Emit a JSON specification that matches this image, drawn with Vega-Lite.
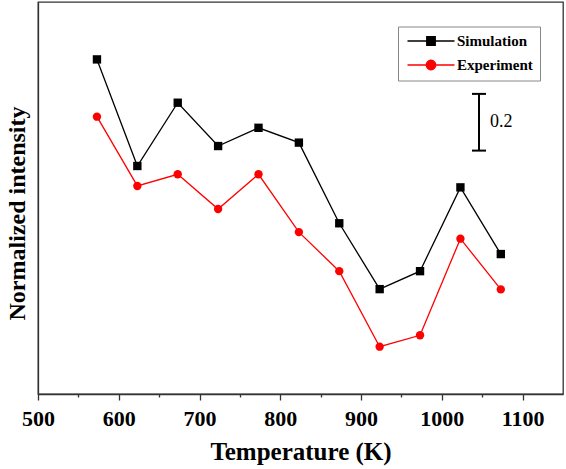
{
  "$schema": "https://vega.github.io/schema/vega-lite/v6.json",
  "width": 525,
  "height": 392,
  "autosize": "none",
  "padding": {"left": 38, "top": 2, "right": 3, "bottom": 75},
  "background": "white",
  "config": {
    "view": {"stroke": "#333", "strokeWidth": 1.3},
    "font": "Liberation Serif",
    "axisX": {
      "grid": false,
      "domainColor": "#333", "domainWidth": 1.3,
      "tickColor": "#333", "tickWidth": 1.3, "tickSize": 6,
      "labelFont": "Liberation Serif", "labelFontWeight": "bold", "labelFontSize": 22, "labelColor": "black",
      "labelPadding": 8, "labelFlush": false, "labelOverlap": false,
      "titleFont": "Liberation Serif", "titleFontWeight": "bold", "titleFontSize": 25, "titleColor": "black",
      "titlePadding": 10
    },
    "axisY": {
      "grid": false, "labels": false, "ticks": false,
      "domainColor": "#333", "domainWidth": 1.3,
      "titleFont": "Liberation Serif", "titleFontWeight": "bold", "titleFontSize": 24, "titleColor": "black"
    }
  },
  "data": {
    "values": [
      {"T": 573, "v": 1.174, "series": "Simulation"},
      {"T": 623, "v": 0.800, "series": "Simulation"},
      {"T": 673, "v": 1.022, "series": "Simulation"},
      {"T": 723, "v": 0.870, "series": "Simulation"},
      {"T": 773, "v": 0.934, "series": "Simulation"},
      {"T": 823, "v": 0.882, "series": "Simulation"},
      {"T": 873, "v": 0.599, "series": "Simulation"},
      {"T": 923, "v": 0.368, "series": "Simulation"},
      {"T": 973, "v": 0.431, "series": "Simulation"},
      {"T": 1023, "v": 0.725, "series": "Simulation"},
      {"T": 1073, "v": 0.491, "series": "Simulation"},
      {"T": 573, "v": 0.973, "series": "Experiment"},
      {"T": 623, "v": 0.730, "series": "Experiment"},
      {"T": 673, "v": 0.771, "series": "Experiment"},
      {"T": 723, "v": 0.649, "series": "Experiment"},
      {"T": 773, "v": 0.771, "series": "Experiment"},
      {"T": 823, "v": 0.568, "series": "Experiment"},
      {"T": 873, "v": 0.431, "series": "Experiment"},
      {"T": 923, "v": 0.166, "series": "Experiment"},
      {"T": 973, "v": 0.206, "series": "Experiment"},
      {"T": 1023, "v": 0.545, "series": "Experiment"},
      {"T": 1073, "v": 0.367, "series": "Experiment"}
    ]
  },
  "layer": [
    {
      "transform": [{"filter": "datum.series === 'Simulation'"}],
      "mark": {"type": "line", "strokeWidth": 1.3, "color": "black"},
      "encoding": {
        "x": {
          "field": "T", "type": "quantitative",
          "scale": {"domain": [500, 1150], "nice": false, "zero": false},
          "axis": {
            "title": "Temperature (K)",
            "format": "d",
            "values": [500, 550, 600, 650, 700, 750, 800, 850, 900, 950, 1000, 1050, 1100],
            "labelExpr": "datum.value % 100 === 0 ? datum.label : ''",
            "tickSize": {"condition": {"test": "datum.value % 100 !== 0", "value": 3}, "value": 6},
            "encode": {
              "labels": {
                "font": {"value": "Liberation Serif"},
                "fontWeight": {"value": "bold"},
                "fontSize": {"value": 22}
              }
            }
          }
        },
        "y": {
          "field": "v", "type": "quantitative",
          "scale": {"domain": [0, 1.3754], "nice": false},
          "axis": {
            "title": "Normalized intensity",
            "titleX": -21, "titleY": 211, "titleAlign": "center", "titleBaseline": "middle", "titleAngle": -90
          }
        }
      }
    },
    {
      "transform": [{"filter": "datum.series === 'Experiment'"}],
      "mark": {"type": "line", "strokeWidth": 1.3, "color": "#ff0000"},
      "encoding": {
        "x": {"field": "T", "type": "quantitative"},
        "y": {"field": "v", "type": "quantitative"}
      }
    },
    {
      "transform": [{"filter": "datum.series === 'Simulation'"}],
      "mark": {"type": "point", "shape": "square", "filled": true, "opacity": 1, "size": 70, "color": "black"},
      "encoding": {
        "x": {"field": "T", "type": "quantitative"},
        "y": {"field": "v", "type": "quantitative"}
      }
    },
    {
      "transform": [{"filter": "datum.series === 'Experiment'"}],
      "mark": {"type": "point", "shape": "circle", "filled": true, "opacity": 1, "size": 70, "color": "#ff0000"},
      "encoding": {
        "x": {"field": "T", "type": "quantitative"},
        "y": {"field": "v", "type": "quantitative"}
      }
    },
    {
      "mark": {"type": "point", "opacity": 0, "size": 70, "strokeWidth": 1.3},
      "encoding": {
        "x": {"field": "T", "type": "quantitative"},
        "y": {"field": "v", "type": "quantitative"},
        "fill": {
          "field": "series", "type": "nominal",
          "scale": {"domain": ["Simulation", "Experiment"], "range": ["black", "#ff0000"]},
          "legend": {
            "title": null,
            "orient": "none", "legendX": 360, "legendY": 24.5,
            "padding": 7, "rowPadding": 8,
            "strokeColor": "#888", "fillColor": "white",
            "labelFont": "Liberation Serif", "labelFontWeight": "bold", "labelFontSize": 15, "labelColor": "black",
            "labelOffset": 37, "symbolSize": 100, "symbolOpacity": 1, "symbolStrokeWidth": 1.3
          }
        },
        "stroke": {
          "field": "series", "type": "nominal",
          "scale": {"domain": ["Simulation", "Experiment"], "range": ["black", "#ff0000"]},
          "legend": {
            "title": null,
            "orient": "none", "legendX": 360, "legendY": 24.5,
            "padding": 7, "rowPadding": 8,
            "strokeColor": "#888", "fillColor": "white",
            "labelFont": "Liberation Serif", "labelFontWeight": "bold", "labelFontSize": 15, "labelColor": "black",
            "labelOffset": 37, "symbolSize": 100, "symbolOpacity": 1, "symbolStrokeWidth": 1.3
          }
        },
        "shape": {
          "field": "series", "type": "nominal",
          "scale": {
            "domain": ["Simulation", "Experiment"],
            "range": ["M-1,0H8.4M2.85,-0.85H4.55V0.85H2.85Z", "M-1,0H8.4M4.65,0A0.95,0.95,0,1,1,2.75,0A0.95,0.95,0,1,1,4.65,0Z"]
          },
          "legend": {
            "title": null,
            "orient": "none", "legendX": 360, "legendY": 24.5,
            "padding": 7, "rowPadding": 8,
            "strokeColor": "#888", "fillColor": "white",
            "labelFont": "Liberation Serif", "labelFontWeight": "bold", "labelFontSize": 15, "labelColor": "black",
            "labelOffset": 37, "symbolSize": 100, "symbolOpacity": 1, "symbolStrokeWidth": 1.3
          }
        }
      }
    },
    {
      "data": {"values": [{"k": 1}]},
      "mark": {"type": "rule", "color": "black", "strokeWidth": 2},
      "encoding": {
        "x": {"datum": 1046},
        "y": {"datum": 0.854},
        "y2": {"datum": 1.053}
      }
    },
    {
      "data": {"values": [{"k": 1}]},
      "mark": {"type": "rule", "color": "black", "strokeWidth": 2},
      "encoding": {
        "x": {"datum": 1037.3},
        "x2": {"datum": 1054.7},
        "y": {"datum": 1.053}
      }
    },
    {
      "data": {"values": [{"k": 1}]},
      "mark": {"type": "rule", "color": "black", "strokeWidth": 2},
      "encoding": {
        "x": {"datum": 1037.3},
        "x2": {"datum": 1054.7},
        "y": {"datum": 0.854}
      }
    },
    {
      "data": {"values": [{"k": 1}]},
      "mark": {"type": "text", "text": "0.2", "font": "Liberation Serif", "fontWeight": "normal", "fontSize": 18, "align": "left", "baseline": "middle", "color": "black"},
      "encoding": {
        "x": {"datum": 1059.6},
        "y": {"datum": 0.954}
      }
    }
  ]
}
